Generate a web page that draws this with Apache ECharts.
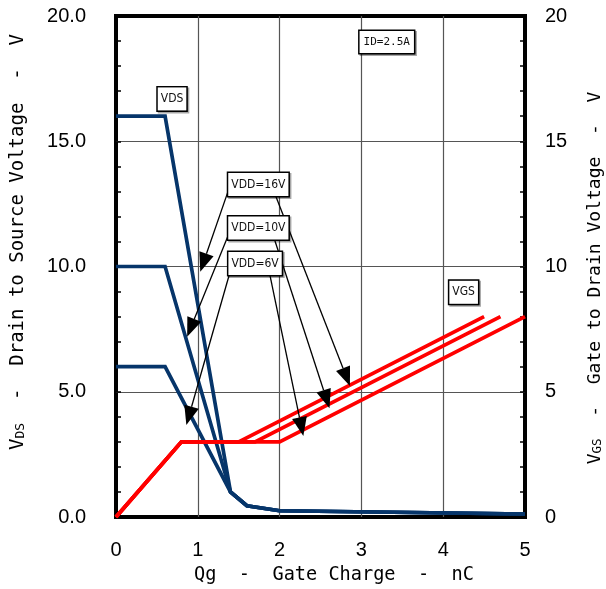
<!DOCTYPE html>
<html>
<head>
<meta charset="utf-8">
<script src="https://cdn.jsdelivr.net/npm/echarts@6/dist/echarts.min.js"></script>
<style>
  html, body { margin: 0; padding: 0; background: #fff; }
  #chart { width: 606px; height: 589px; }
</style>
</head>
<body>
<div id="chart"></div>
<script>
// Gate charge (nC) sample points for the drain-source voltage curves
const qgVds = [0, 0.6, 1.4, 1.6, 2.0, 5.0];
const vdsAt16 = [16, 16, 1.0, 0.45, 0.25, 0.12];
const vdsAt10 = [10, 10, 1.0, 0.45, 0.25, 0.12];
const vdsAt6 = [6, 6, 1.0, 0.45, 0.25, 0.12];

// Gate-source voltage curves (gate charge, voltage)
const qgVgs16 = [0, 0.8, 1.5, 4.5];
const qgVgs10 = [0, 0.8, 1.7, 4.7];
const qgVgs6 = [0, 0.8, 2.0, 5.0];
const vgsLevels = [0, 3, 3, 8];

// Axis ticks
const xTicks = [0, 1, 2, 3, 4, 5];
const yTicks = [0, 5, 10, 15, 20];

// Callout boxes: text and centre in data units
const callouts = [
  { text: 'VDS', at: [0.685, 16.69], mono: false },
  { text: 'ID=2.5A', at: [3.31, 18.96], mono: true },
  { text: 'VDD=16V', at: [1.74, 13.27], mono: false },
  { text: 'VDD=10V', at: [1.74, 11.54], mono: false },
  { text: 'VDD=6V', at: [1.70, 10.12], mono: false },
  { text: 'VGS', at: [4.25, 8.97], mono: false }
];

// Leader arrows from the callouts to the curves (data units)
const leaders = [
  { from: [1.39, 13.19], to: [1.03, 9.79] },
  { from: [1.39, 11.39], to: [0.87, 7.20] },
  { from: [1.39, 9.73], to: [0.86, 3.67] },
  { from: [1.90, 13.25], to: [2.86, 5.23] },
  { from: [1.90, 11.46], to: [2.61, 4.34] },
  { from: [1.85, 10.15], to: [2.29, 3.23] }
];

const NAVY = '#06356a';
const RED = '#ff0000';
const zip = (xs, ys) => xs.map((x, i) => [x, ys[i]]);

const chart = echarts.init(document.getElementById('chart'), null, { renderer: 'canvas' });

const tickCommon = {
  show: true, inside: true, length: 5,
  lineStyle: { color: '#000', width: 1.5 }
};
const minorCommon = {
  show: true, splitNumber: 5, length: 5,
  lineStyle: { color: '#000', width: 1.5 }
};
const gridLine = {
  show: true, showMinLine: false, showMaxLine: false,
  lineStyle: { color: '#555', width: 1.2 }
};
const labelFont = { color: '#000', fontSize: 20, fontFamily: 'Liberation Sans, Arial, sans-serif' };

function lineSeries(name, data, color, z) {
  return {
    name, type: 'line', data, z,
    showSymbol: false, symbol: 'none',
    lineStyle: { color, width: 3.7, join: 'miter' },
    xAxisIndex: 0, yAxisIndex: 0,
    silent: true
  };
}

chart.setOption({
  animation: false,
  backgroundColor: '#fff',
  grid: {
    left: 116, right: 81, top: 16, bottom: 72,
    show: true, borderColor: '#000', borderWidth: 4, backgroundColor: '#fff'
  },
  xAxis: {
    type: 'value', min: xTicks[0], max: xTicks[xTicks.length - 1], interval: 1,
    axisLine: { show: false },
    axisTick: { show: false },
    axisLabel: Object.assign({ margin: 23 }, labelFont),
    splitLine: gridLine
  },
  yAxis: [
    {
      type: 'value', position: 'left',
      min: yTicks[0], max: yTicks[yTicks.length - 1], interval: 5,
      axisLine: { show: false },
      axisTick: tickCommon, minorTick: minorCommon,
      axisLabel: Object.assign({ margin: 30, formatter: v => v.toFixed(1) }, labelFont),
      splitLine: gridLine
    },
    {
      type: 'value', position: 'right',
      min: yTicks[0], max: yTicks[yTicks.length - 1], interval: 5,
      axisLine: { show: false },
      axisTick: tickCommon, minorTick: minorCommon,
      axisLabel: Object.assign({ margin: 20, formatter: v => String(v) }, labelFont),
      splitLine: { show: false }
    }
  ],
  series: [
    lineSeries('VDS VDD=16V', zip(qgVds, vdsAt16), NAVY, 2),
    lineSeries('VDS VDD=10V', zip(qgVds, vdsAt10), NAVY, 2),
    lineSeries('VDS VDD=6V', zip(qgVds, vdsAt6), NAVY, 2),
    lineSeries('VGS VDD=6V', zip(qgVgs6, vgsLevels), RED, 3),
    lineSeries('VGS VDD=10V', zip(qgVgs10, vgsLevels), RED, 3),
    lineSeries('VGS VDD=16V', zip(qgVgs16, vgsLevels), RED, 3)
  ]
});

// Overlay: callout boxes, leader arrows and axis titles
const toPx = p => chart.convertToPixel({ gridIndex: 0 }, p);
const graphics = [];

leaders.forEach(a => {
  const p0 = toPx(a.from), p1 = toPx(a.to);
  const dx = p1[0] - p0[0], dy = p1[1] - p0[1];
  const len = Math.hypot(dx, dy);
  const ux = dx / len, uy = dy / len;
  const headLen = 19, half = 7.5;
  const bx = p1[0] - ux * headLen, by = p1[1] - uy * headLen;
  graphics.push({
    type: 'line', z: 100,
    shape: { x1: p0[0], y1: p0[1], x2: bx, y2: by },
    style: { stroke: '#000', lineWidth: 1.3 }
  });
  graphics.push({
    type: 'polygon', z: 100,
    shape: { points: [[p1[0], p1[1]], [bx - uy * half, by + ux * half], [bx + uy * half, by - ux * half]] },
    style: { fill: '#000' }
  });
});

callouts.forEach(c => {
  const p = toPx(c.at);
  graphics.push({
    type: 'text', z: 110, x: p[0], y: p[1],
    style: {
      text: c.text,
      fill: '#111',
      fontSize: c.mono ? 11 : 12,
      fontFamily: c.mono ? 'DejaVu Sans Mono, monospace' : 'DejaVu Sans Condensed, Liberation Sans Narrow, DejaVu Sans, sans-serif',
      align: 'center', verticalAlign: 'middle',
      backgroundColor: '#fff',
      borderColor: '#000', borderWidth: 1.5,
      padding: c.mono ? [6, 4, 5, 4] : [6, 3, 5, 3],
      shadowColor: 'rgba(0,0,0,0.35)', shadowOffsetX: 1.5, shadowOffsetY: 1.5
    }
  });
});

const titleFont = 'DejaVu Sans Mono, monospace';
graphics.push({
  type: 'text', x: 18, y: 242, rotation: Math.PI / 2, z: 120,
  style: {
    text: '{m|V}{s|DS}{m|  -  Drain to Source Voltage  -  V}',
    align: 'center', verticalAlign: 'middle',
    rich: {
      m: { fontFamily: titleFont, fontSize: 19, fill: '#000' },
      s: { fontFamily: titleFont, fontSize: 13, fill: '#000', verticalAlign: 'bottom', padding: [6, 0, 0, 0] }
    }
  }
});
graphics.push({
  type: 'text', x: 595, y: 278, rotation: Math.PI / 2, z: 120,
  style: {
    text: '{m|V}{s|GS}{m|  -  Gate to Drain Voltage  -  V}',
    align: 'center', verticalAlign: 'middle',
    rich: {
      m: { fontFamily: titleFont, fontSize: 18, fill: '#000' },
      s: { fontFamily: titleFont, fontSize: 12.5, fill: '#000', verticalAlign: 'bottom', padding: [6, 0, 0, 0] }
    }
  }
});
graphics.push({
  type: 'text', x: 334, y: 575, z: 120,
  style: {
    text: 'Qg  -  Gate Charge  -  nC',
    fontFamily: titleFont, fontSize: 18.6, fill: '#000',
    align: 'center', verticalAlign: 'middle'
  }
});

chart.setOption({ graphic: graphics });
</script>
</body>
</html>
